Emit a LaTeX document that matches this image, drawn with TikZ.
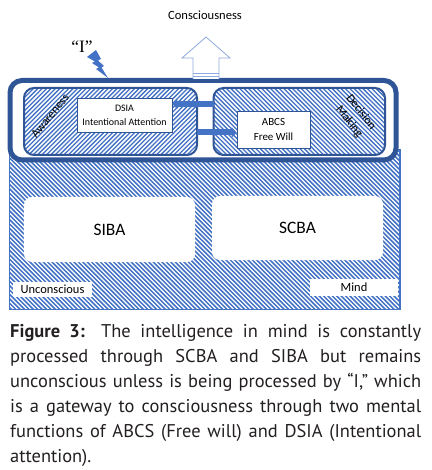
\documentclass[tikz,border=0pt]{standalone}
\usepackage{fontspec}
\setmainfont{Carlito}
\newfontfamily\capfont{PT Sans}
\newfontfamily\serifI{Liberation Serif}
\usetikzlibrary{arrows.meta}
\definecolor{dblue}{RGB}{47,85,151}
\definecolor{hblue}{RGB}{68,114,196}
\definecolor{lblue}{RGB}{143,170,220}
\definecolor{captxt}{RGB}{35,31,32}
\begin{document}
\begin{tikzpicture}[x=1bp,y=-1bp,
  hatchline/.style={draw=hblue,line width=1.3bp},
  innerbox/.style={draw=dblue,line width=2bp,rounded corners=10bp},
  whitebox/.style={draw=dblue,line width=0.6bp,fill=white,inner sep=0pt,align=center},
  bigbox/.style={fill=white,rounded corners=8bp,inner sep=0pt,font=\fontsize{17.5}{20}\selectfont},
  tagbox/.style={fill=white,inner sep=0pt,font=\fontsize{12.5}{14}\selectfont},
  linkarrow/.style={draw=hblue,line width=6bp,-{Triangle[length=5bp,width=10bp]}},
  rottext/.style={font=\fontsize{12}{15}\selectfont,align=center,inner sep=0pt},
  capline/.style={anchor=base west,inner sep=0pt,text=captxt,font=\capfont\fontsize{18.5}{20}\selectfont}
  ]
\useasboundingbox (0,0) rectangle (431,470);
% lower (unconscious) region
\begin{scope}
  \clip (9.5,150) rectangle (400,309.5);
  \fill[white] (9.5,150) rectangle (400,309.5);
  \foreach \i in {-172,-167.6,...,404} \draw[hatchline,line width=1.5bp] (\i,148) -- ++(82,82) ++(0,0) -- ++(83,83);
\end{scope}
\draw[hblue,line width=1.5bp] (9.5,150) rectangle (400,309.5);
\node[bigbox,minimum width=171bp,minimum height=65bp] (siba) at (109.5,229.5) {SIBA};
\node[bigbox,minimum width=171bp,minimum height=64bp] (scba) at (297.5,228) {SCBA};
\node[tagbox,minimum width=79bp,minimum height=15bp] (uncon) at (52.5,289.5) {Unconscious};
\node[tagbox,minimum width=88bp,minimum height=17bp] (mind) at (354,287.5) {Mind};
% "I" box
\draw[fill=white,draw=dblue,line width=5bp,rounded corners=12bp] (10,80.5) rectangle (396,160);
\begin{scope}
  \clip[rounded corners=10bp] (24,88) rectangle (197,155);
  \foreach \i in {-60,-55.6,...,205} \draw[hatchline] (\i,160) -- ++(80,-80);
\end{scope}
\begin{scope}
  \clip[rounded corners=10bp] (213.5,88) rectangle (385,155);
  \foreach \i in {130,134.4,...,395} \draw[hatchline] (\i,80) -- ++(80,80);
\end{scope}
\draw[innerbox] (24,88) rectangle (197,155);
\draw[innerbox] (213.5,88) rectangle (385,155);
\coordinate (rbox) at (213.5,104);
\node[whitebox,minimum width=95bp,minimum height=34bp,font=\fontsize{10}{14}\selectfont] (dsia) at (124.5,115) {DSIA\\Intentional Attention};
\node[whitebox,minimum width=73bp,minimum height=37bp,font=\fontsize{11}{15}\selectfont] (abcs) at (273.5,129.5) {ABCS\\Free Will};
\draw[linkarrow] (rbox) -- (dsia.east |- rbox);
\draw[linkarrow] (197,132.5) -- (abcs.west |- 0,132.5);
\node[rottext,rotate=51] (aware) at (50,116) {Awareness};
\node[rottext,rotate=-52] (decis) at (355,117) {Decision\\Making};
% consciousness arrow
\draw[lblue,line width=0.8bp,fill=white,line join=miter] (193,79) -- (193,58) -- (182,58) -- (206,37) -- (230,58) -- (219,58) -- (219,79);
\draw[lblue,line width=0.8bp] (193,73) -- (219,73) (193,76) -- (219,76);
\node[font=\fontsize{12.6}{14}\selectfont,anchor=base,inner sep=0pt] (consc) at (205,20) {Consciousness};
% "I" and lightning
\node[font=\serifI\fontsize{17.5}{18}\selectfont,anchor=base,inner sep=0pt] (ilabel) at (82,53) {“I”};
\fill[hblue] (87,57) -- (96,50) -- (101,59) -- (98,60.5) -- (104,66) -- (101.5,67.5) -- (108,78) -- (96,69) -- (99,67.5) -- (92,63) -- (95,61.5) -- cycle;
% caption
\node[capline] (c1) at (10,337) {\makebox[411bp][s]{\textbf{Figure 3:} The intelligence in mind is constantly}};
\node[capline] (c2) at (10,362) {\makebox[411bp][s]{processed through SCBA and SIBA but remains}};
\node[capline] (c3) at (10,387) {\makebox[411bp][s]{unconscious unless is being processed by “I,” which}};
\node[capline] (c4) at (10,412) {\makebox[411bp][s]{is a gateway to consciousness through two mental}};
\node[capline] (c5) at (10,437) {\makebox[411bp][s]{functions of ABCS (Free will) and DSIA (Intentional}};
\node[capline] (c6) at (10,462) {attention).};
\end{tikzpicture}
\end{document}
